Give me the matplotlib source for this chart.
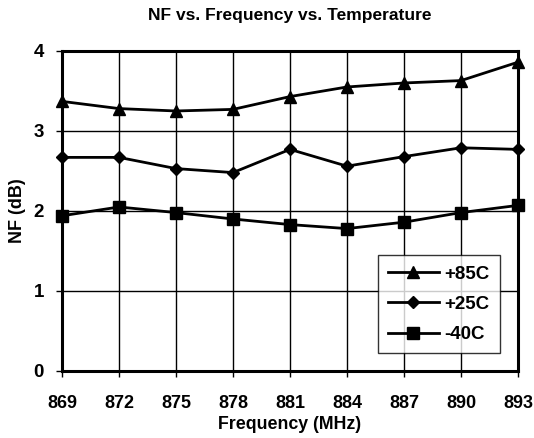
import matplotlib
matplotlib.use("Agg")
import matplotlib.pyplot as plt
from matplotlib import font_manager

freq = [869, 872, 875, 878, 881, 884, 887, 890, 893]
nf_85 = [3.37, 3.28, 3.25, 3.27, 3.43, 3.55, 3.60, 3.63, 3.86]
nf_25 = [2.67, 2.67, 2.53, 2.48, 2.77, 2.56, 2.68, 2.79, 2.77]
nf_m40 = [1.94, 2.05, 1.98, 1.90, 1.83, 1.78, 1.86, 1.98, 2.07]
labels = ["+85C", "+25C", "-40C"]
yticks = [0, 1, 2, 3, 4]

names = {f.name for f in font_manager.fontManager.ttflist}
fam = "Liberation Sans Narrow" if "Liberation Sans Narrow" in names else "Liberation Sans"
plt.rcParams["font.family"] = [fam, "DejaVu Sans"]
plt.rcParams["font.weight"] = "bold"

fig = plt.figure(figsize=(5.34, 4.38), dpi=100)
ax = fig.add_axes([0.1161, 0.153, 0.8539, 0.7306])

for ys, m, ms, lab in zip([nf_85, nf_25, nf_m40], ["^", "D", "s"], [9, 6, 8], labels):
    ax.plot(freq, ys, color="black", lw=2, marker=m, ms=ms, label=lab, clip_on=False, zorder=3)

ax.set_xlim(freq[0], freq[-1])
ax.set_ylim(0, 4)
ax.set_xticks(freq)
ax.set_yticks(yticks)
ax.tick_params(axis="x", direction="out", length=4, width=1, labelsize=13, pad=13)
ax.tick_params(axis="y", direction="out", length=4, width=1, labelsize=13.5, pad=9)
ax.grid(True, color="black", lw=1)
ax.set_axisbelow(True)
for s in ax.spines.values():
    s.set_linewidth(2.2)

ax.set_title("NF vs. Frequency vs. Temperature", fontsize=12.5, fontweight="bold", pad=22)
ax.set_xlabel("Frequency (MHz)", fontsize=12.8, fontweight="bold", labelpad=3)
fig.text(17 / 534, 1 - 211 / 438, "NF (dB)", rotation=90, ha="center", va="center",
         fontsize=13, fontweight="bold")

leg = ax.legend(loc="lower right", bbox_to_anchor=(0.96, 0.055), fontsize=13.5, frameon=True,
                fancybox=False, edgecolor="black", handlelength=2.7, borderpad=0.55,
                labelspacing=0.7, handletextpad=0.3, borderaxespad=0)
leg.get_frame().set_linewidth(1)

fig.savefig("out.png", dpi=100)
